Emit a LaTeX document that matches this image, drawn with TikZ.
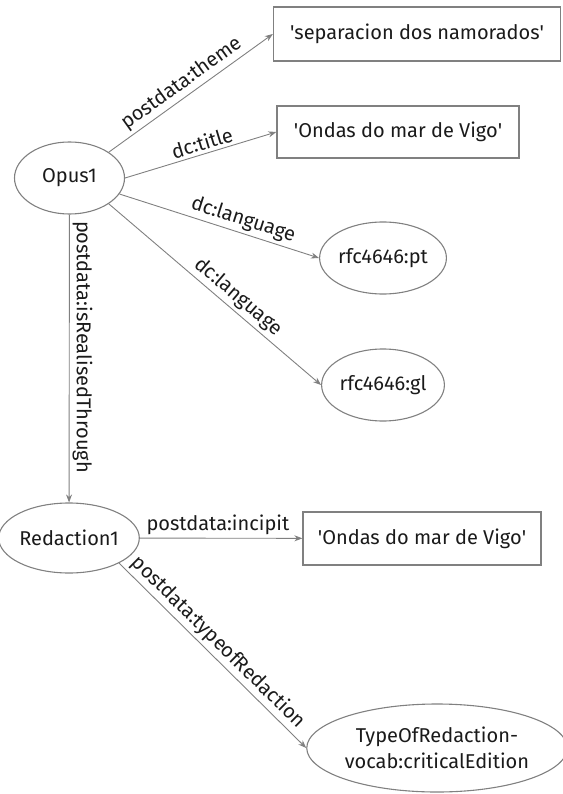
\documentclass[tikz,border=0pt]{standalone}
\usepackage{fontspec}
\setmainfont{Fira Sans}
\usetikzlibrary{shapes.geometric,arrows.meta}
\definecolor{ln}{HTML}{808080}
\definecolor{tx}{HTML}{1A1A1A}
\newcommand{\sq}{\textquotesingle}
\begin{document}
\begin{tikzpicture}[x=1pt,y=-1pt,
  every node/.style={font=\fontsize{20}{26}\selectfont, text=tx},
  ent/.style={ellipse, draw=ln, line width=1.1pt, inner sep=0pt},
  lit/.style={rectangle, draw=ln, line width=1.3pt, inner sep=0pt},
  rel/.style={draw=ln, line width=0.9pt, -{Stealth[length=8pt,width=6pt]}},
  lab/.style={sloped, above, inner sep=3pt}]
\useasboundingbox (0,0) rectangle (562,794);
\node[ent, minimum width=110pt, minimum height=72pt] (opus) at (69.5,178) {Opus1};
\node[lit, minimum width=287pt, minimum height=54pt] (r1) at (417,34) {\sq separacion dos namorados\sq};
\node[lit, minimum width=242pt, minimum height=52pt] (r2) at (398,132) {\sq Ondas do mar de Vigo\sq};
\node[ent, minimum width=108pt, minimum height=72pt] (pt) at (383,258) {rfc4646:pt};
\node[ent, minimum width=108pt, minimum height=72pt] (gl) at (383,385) {rfc4646:gl};
\node[ent, minimum width=124pt, minimum height=70pt] (red) at (69,538) {Redaction1};
\node[lit, minimum width=238pt, minimum height=53pt] (r3) at (422,538.5) {\sq Ondas do mar de Vigo\sq};
\node[ent, minimum width=244pt, minimum height=88pt, align=center] (tor) at (437,748) {TypeOfRedaction-\\vocab:criticalEdition};
\draw[rel] (opus.north east) -- node[lab, pos=0.49] {postdata:theme} (r1.west);
\draw[rel] (opus.east) -- node[lab, pos=0.53] {dc:title} (r2.west);
\draw[rel] (opus) -- node[lab, pos=0.6] {dc:language} (pt.west);
\draw[rel] (opus.south east) -- node[lab, pos=0.57] {dc:language} (gl.west);
\draw[rel] (opus) -- node[rotate=-90, anchor=south, inner sep=3pt, pos=0.46] {postdata:isRealisedThrough} (red);
\draw[rel] (red) -- node[lab, pos=0.48] {postdata:incipit} (r3);
\draw[rel] (red.south east) -- node[lab, pos=0.48] {postdata:typeofRedaction} (tor.west);
\end{tikzpicture}
\end{document}
